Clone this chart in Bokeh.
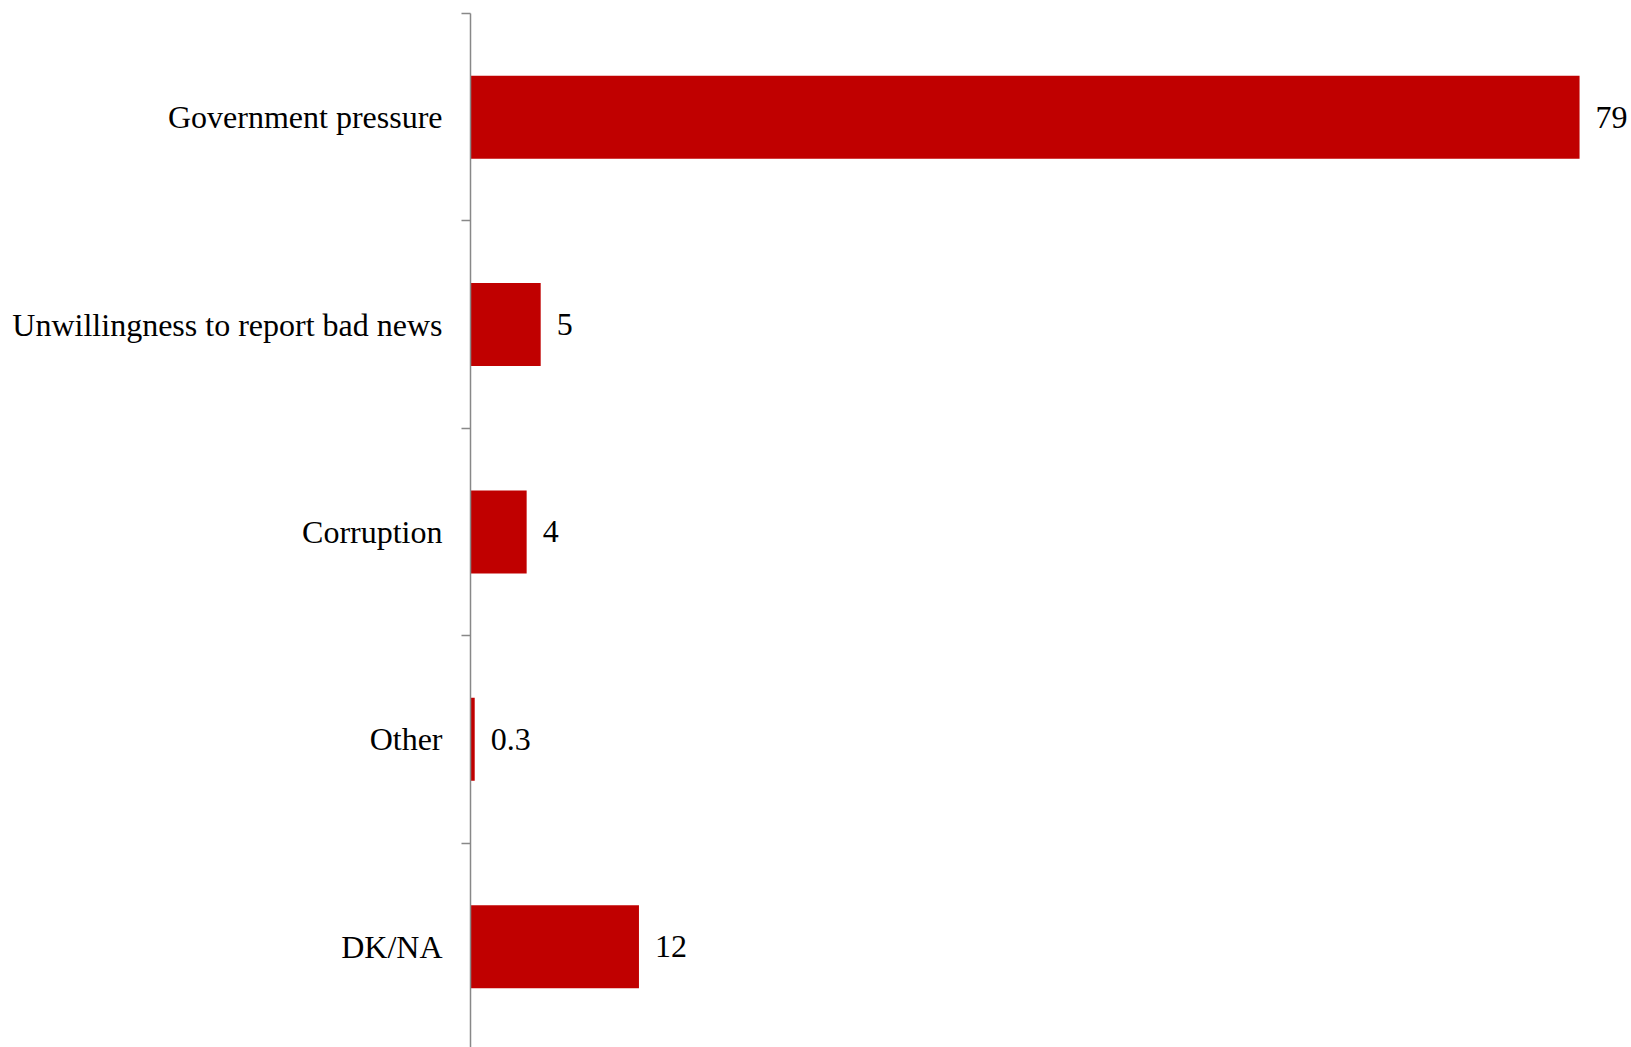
from bokeh.plotting import figure
from bokeh.models import Range1d, LinearAxis, FixedTicker, ColumnDataSource, LabelSet
from bokeh.embed import file_html
from bokeh.resources import INLINE

categories = ["Government pressure", "Unwillingness to report bad news", "Corruption", "Other", "DK/NA"]
values = [79, 5, 4, 0.3, 12]
value_labels = ["79", "5", "4", "0.3", "12"]

positions = [i + 0.5 for i in range(len(categories))]
boundaries = list(range(len(categories) + 1))

src = ColumnDataSource(data=dict(y=positions, v=values, lab=value_labels, cat=categories))

W, H = 1631, 1047
p = figure(width=W, height=H, output_backend="svg", toolbar_location=None,
           x_range=Range1d(0, 82.7), y_range=Range1d(4.986, 0),
           x_axis_location=None, y_axis_location=None,
           min_border_left=470, min_border_right=0, min_border_top=13, min_border_bottom=0)
p.outline_line_color = None
p.xgrid.visible = False
p.ygrid.visible = False
p.background_fill_color = "white"
p.border_fill_color = "white"

p.hbar(y="y", right="v", left=0, height=0.4, source=src, fill_color="#C00000", line_color=None)

ax = LinearAxis(ticker=FixedTicker(ticks=positions, minor_ticks=boundaries))
ax.major_label_overrides = {pos: c for pos, c in zip(positions, categories)}
ax.major_tick_line_color = None
ax.major_tick_out = 0
ax.major_tick_in = 0
ax.minor_tick_out = 9
ax.minor_tick_in = 0
ax.minor_tick_line_color = "#888888"
ax.minor_tick_line_width = 1.5
ax.axis_line_color = "#888888"
ax.axis_line_width = 1.5
ax.major_label_standoff = 19
ax.major_label_text_font = "Liberation Serif"
ax.major_label_text_font_size = "32px"
ax.major_label_text_color = "black"
p.add_layout(ax, "left")

labels = LabelSet(x="v", y="y", text="lab", source=src, x_offset=16,
                  text_font="Liberation Serif", text_font_size="32px",
                  text_color="black", text_baseline="middle", text_align="left")
p.add_layout(labels)

open("out.html", "w").write(file_html(p, INLINE))
